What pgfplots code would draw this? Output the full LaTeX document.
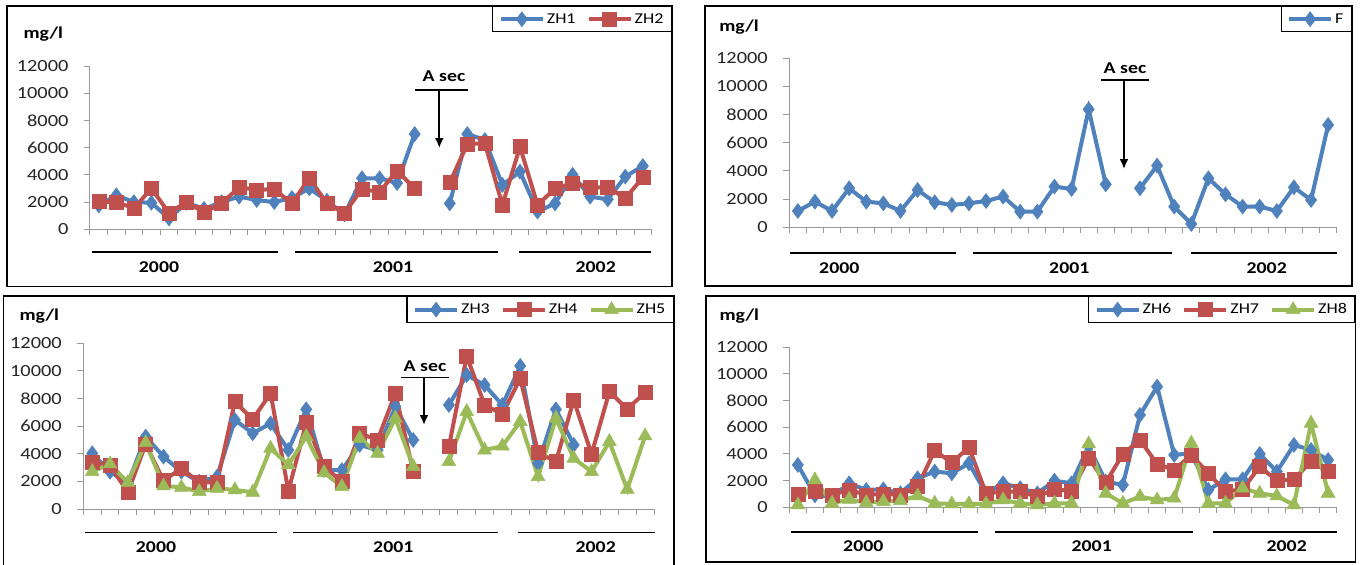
\documentclass[border=0pt]{standalone}
\usepackage{pgfplots}
\pgfplotsset{compat=1.18}
\usepackage{pgfplotstable}
\usepackage{fontspec}
\setmainfont{Carlito}[FakeStretch=1.2]
\usetikzlibrary{arrows.meta}
\definecolor{cblue}{HTML}{4F81BD}
\definecolor{cred}{HTML}{C0504D}
\definecolor{cgreen}{HTML}{9BBB59}

\pgfplotstableread{
k zh1 zh2
1 1750 2030
2 2500 2000
3 2000 1550
4 1950 3000
5 800 1200
6 1950 2000
7 1500 1250
8 2000 1900
9 2400 3100
10 2150 2900
11 2000 2950
12 2300 1900
13 3000 3750
14 2100 1900
15 1100 1200
16 3750 2950
17 3750 2750
18 3400 4300
19 7000 3000
20 nan nan
21 1900 3430
22 7000 6270
23 6560 6320
24 3260 1790
25 4240 6070
26 1300 1790
27 1900 3000
28 4000 3380
29 2400 3090
30 2200 3090
31 3870 2280
32 4650 3800
}\tabA

\pgfplotstableread{
k f
1 1160
2 1820
3 1160
4 2770
5 1820
6 1700
7 1160
8 2650
9 1780
10 1590
11 1700
12 1870
13 2180
14 1110
15 1110
16 2890
17 2720
18 8380
19 3050
20 nan
21 2770
22 4380
23 1470
24 240
25 3480
26 2340
27 1470
28 1470
29 1160
30 2840
31 1940
32 7270
}\tabB

\pgfplotstableread{
k zh3 zh4 zh5
1 4030 3380 2700
2 2700 3140 3260
3 1860 1210 1910
4 5240 4710 4800
5 3790 2050 1670
6 2700 2950 1570
7 1980 1930 1260
8 2340 1930 1500
9 6450 7770 1380
10 5480 6490 1210
11 6200 8380 4390
12 4270 1300 3190
13 7220 6250 5240
14 2820 3070 2630
15 2820 1980 1620
16 4640 5480 5120
17 4270 5000 4030
18 7410 8380 6570
19 5000 2700 3070
20 nan nan nan
21 7530 4510 3430
22 9700 11080 7050
23 8980 7530 4270
24 7530 6880 4560
25 10360 9460 6330
26 3310 4100 2340
27 7220 3430 6570
28 4640 7890 3670
29 nan 3980 2700
30 nan 8500 4880
31 nan 7240 1420
32 nan 8430 5290
}\tabC

\pgfplotstableread{
k zh6 zh7 zh8
1 3180 1000 180
2 900 1170 2050
3 800 930 300
4 1800 1300 600
5 1300 930 350
6 1350 1000 430
7 1050 930 500
8 2180 1550 850
9 2680 4250 300
10 2550 3350 250
11 3300 4500 250
12 1050 1050 250
13 1800 1170 550
14 1430 1170 300
15 1050 800 180
16 2000 1350 300
17 1800 1230 300
18 4600 3680 4750
19 1930 1850 1050
20 1680 4000 300
21 6930 5050 800
22 9050 3250 550
23 3930 2800 680
24 4050 3930 4800
25 1300 2550 300
26 2100 1180 300
27 2100 1350 1430
28 4000 3050 1050
29 2680 2000 850
30 4680 2100 180
31 4300 3430 6300
32 3550 2680 1050
}\tabD

\pgfplotsset{
  panel/.style={
    scale only axis, anchor=south west,
    xmin=0.5, xmax=32.5, ymin=0, ymax=12000,
    axis x line*=bottom, axis y line*=left,
    axis line style={-, draw=black!40, line width=1pt},
    xtick={0.5,1.5,...,32.5}, xticklabels={},
    ytick={0,2000,...,12000},
    scaled y ticks=false,
    tick align=outside, major tick length=6pt,
    tick style={draw=black!40, line width=1pt},
    yticklabel style={font=\fontsize{17}{18}\selectfont, text=black!85, xshift=-12pt},
    /pgf/number format/assume math mode=true,
    /pgf/number format/1000 sep={},
    clip=false, unbounded coords=jump,
    legend columns=-1,
    legend style={draw=black, line width=1.2pt, fill=white, inner xsep=6pt, inner ysep=5pt,
      font=\fontsize{15}{17}\selectfont, anchor=north east,
      nodes={inner xsep=2pt},
      /tikz/every even column/.append style={column sep=9pt}},
    legend image code/.code={\draw[mark repeat=2,mark phase=2,##1] plot coordinates {(0pt,0pt) (21pt,0pt) (42pt,0pt)};},
  },
  sblue/.style={color=cblue, line width=4pt, mark=diamond*, mark size=7.5pt, mark options={solid, fill=cblue, line width=0.5pt}},
  sred/.style={color=cred, line width=4pt, mark=square*, mark size=7pt, mark options={solid, fill=cred, line width=0.5pt}},
  sgreen/.style={color=cgreen, line width=4pt, mark=triangle*, mark size=8pt, mark options={solid, fill=cgreen, line width=0.5pt}},
}

\begin{document}
\begin{tikzpicture}
\useasboundingbox (0pt,0pt) rectangle (1363pt,-565pt);
\fill[white] (0pt,0pt) rectangle (1363pt,-565pt);

% Panel 1
\begin{axis}[panel, at={(90pt,-229.3pt)}, width=561.6pt, height=163.3pt,
  legend style={at={(1.0363,1.3674)}}]
\addplot[sblue] table[x=k,y=zh1]{\tabA};
\addlegendentry{ZH1}
\addplot[sred] table[x=k,y=zh2]{\tabA};
\addlegendentry{ZH2}
\end{axis}

% Panel 2
\begin{axis}[panel, at={(789.3pt,-227.3pt)}, width=547.4pt, height=169pt,
  legend style={at={(1.028,1.3095)}}]
\addplot[sblue] table[x=k,y=f]{\tabB};
\addlegendentry{F}
\end{axis}

% Panel 3
\begin{axis}[panel, at={(83.3pt,-509pt)}, width=570.7pt, height=165.7pt,
  legend style={at={(1.035,1.2855)}}]
\addplot[sblue] table[x=k,y=zh3]{\tabC};
\addlegendentry{ZH3}
\addplot[sred] table[x=k,y=zh4]{\tabC};
\addlegendentry{ZH4}
\addplot[sgreen] table[x=k,y=zh5]{\tabC};
\addlegendentry{ZH5}
\end{axis}

% Panel 4
\begin{axis}[panel, at={(789.3pt,-507.3pt)}, width=547.4pt, height=160pt,
  legend style={at={(1.0343,1.3206)}}]
\addplot[sblue] table[x=k,y=zh6]{\tabD};
\addlegendentry{ZH6}
\addplot[sred] table[x=k,y=zh7]{\tabD};
\addlegendentry{ZH7}
\addplot[sgreen] table[x=k,y=zh8]{\tabD};
\addlegendentry{ZH8}
\end{axis}

\begin{scope}[x=1pt, y=-1pt]
% frames
\draw[line width=1.5pt] (7,6) rectangle (672,286.7);
\draw[line width=1.5pt] (705,6) rectangle (1352,286);
\draw[line width=1.5pt] (3.3,296) rectangle (674,572);
\draw[line width=1.5pt] (706,296) rectangle (1355.5,562);

\tikzset{yl/.style={line width=1.6pt, black}, yt/.style={font=\bfseries\fontsize{16.5}{17}\selectfont}}
% mg/l
\node[yt] at (43.3,34.3) {mg/l};
\node[yt] at (739,26.7) {mg/l};
\node[yt] at (39.3,316) {mg/l};
\node[yt] at (739.3,316) {mg/l};

% year lines
\draw[yl] (92,251.7) -- (278,251.7);
\draw[yl] (295,251.7) -- (498,251.7);
\draw[yl] (519,251.7) -- (651,251.7);
\node[yt] at (159,267) {2000};
\node[yt] at (393,267) {2001};
\node[yt] at (595.7,267) {2002};

\draw[yl] (790,252.7) -- (956,252.7);
\draw[yl] (972.7,252.7) -- (1171.7,252.7);
\draw[yl] (1191,252.7) -- (1336.7,252.7);
\node[yt] at (839.3,267.7) {2000};
\node[yt] at (1069.3,267.7) {2001};
\node[yt] at (1266.7,267.7) {2002};

\draw[yl] (85,532.3) -- (276.7,532.3);
\draw[yl] (293.3,532.3) -- (498.3,532.3);
\draw[yl] (517.7,532.3) -- (655,532.3);
\node[yt] at (156,546.7) {2000};
\node[yt] at (393.3,546.7) {2001};
\node[yt] at (595.7,546.7) {2002};

\draw[yl] (790.7,531.7) -- (978.3,531.7);
\draw[yl] (995,531.7) -- (1193.3,531.7);
\draw[yl] (1212.7,531.7) -- (1336.7,531.7);
\node[yt] at (863.3,546) {2000};
\node[yt] at (1091.7,546) {2001};
\node[yt] at (1286.7,546) {2002};

% A sec annotations
\tikzset{ar/.style={line width=2pt, -{Latex[length=10pt,width=9pt]}}}
\node[yt] at (444,76) {A sec};
\draw[line width=1.5pt] (415,90) -- (468,90);
\draw[ar] (439.3,90) -- (439.3,148);

\node[yt] at (1125,68.3) {A sec};
\draw[line width=1.5pt] (1101,80) -- (1149,80);
\draw[ar] (1124,80) -- (1124,169);

\node[yt] at (425,366) {A sec};
\draw[line width=1.5pt] (400.7,377.7) -- (449.3,377.7);
\draw[ar] (424,377.7) -- (424,425);
\end{scope}
\end{tikzpicture}
\end{document}
